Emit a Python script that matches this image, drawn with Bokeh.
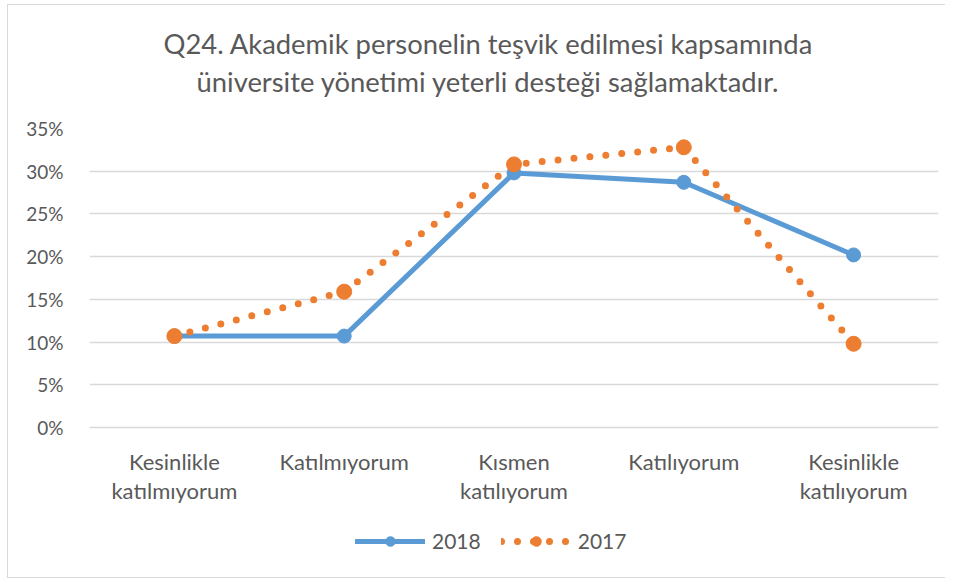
from bokeh.plotting import figure
from bokeh.models import (Range1d, FixedTicker, PrintfTickFormatter, Legend, LegendItem, Title)
from bokeh.core.properties import value
from bokeh.embed import file_html
from bokeh.resources import INLINE

categories = ["Kesinlikle\nkatılmıyorum", "Katılmıyorum", "Kısmen\nkatılıyorum", "Katılıyorum", "Kesinlikle\nkatılıyorum"]
series_2018 = [10.7, 10.7, 29.8, 28.7, 20.2]
series_2017 = [10.7, 15.9, 30.8, 32.8, 9.8]
y_ticks = [0, 5, 10, 15, 20, 25, 30, 35]
title_lines = ["Q24. Akademik personelin teşvik edilmesi kapsamında",
               "üniversite yönetimi yeterli desteği sağlamaktadır."]

FONT = "Lato"
GREY = "#595959"
BLUE = "#5B9BD5"
ORANGE = "#ED7D31"

xs = list(range(len(categories)))

# the frame extends below 0% to hold the category labels and the legend
PX_PER_UNIT = 299 / 35
FRAME_H = 449
y_bottom = 35 - FRAME_H / PX_PER_UNIT

p = figure(frame_width=849, frame_height=FRAME_H, output_backend="svg", toolbar_location=None,
           x_range=Range1d(-0.5, len(categories) - 0.5), y_range=Range1d(y_bottom, 35),
           min_border_left=81, min_border_right=7, min_border_top=123, min_border_bottom=0)
p.title = None
p.styles = {"margin-left": "7px", "margin-top": "4px",
            "border-left": "1px solid #d9d9d9", "border-top": "1px solid #d9d9d9",
            "border-bottom": "1px solid #d9d9d9"}
p.outline_line_color = None

spacer = Title(text=" ", text_font_size="10px", standoff=14)
t2 = Title(text=title_lines[1], align="left", text_font=FONT, text_font_size="27.4px",
           text_color=GREY, text_font_style="normal", offset=107, standoff=7)
t1 = Title(text=title_lines[0], align="left", text_font=FONT, text_font_size="27.4px",
           text_color=GREY, text_font_style="normal", offset=74, standoff=0)
p.add_layout(spacer, "above")
p.add_layout(t2, "above")
p.add_layout(t1, "above")

# axes
p.xaxis.visible = False
p.yaxis.ticker = FixedTicker(ticks=y_ticks)
p.yaxis.formatter = PrintfTickFormatter(format="%d%%")
p.yaxis.axis_line_color = None
p.yaxis.major_tick_line_color = None
p.yaxis.minor_tick_line_color = None
p.yaxis.major_label_text_font = FONT
p.yaxis.major_label_text_color = GREY
p.yaxis.major_label_text_font_size = "19px"
p.yaxis.major_label_standoff = 20
p.xgrid.grid_line_color = None
p.ygrid.ticker = FixedTicker(ticks=y_ticks)
p.ygrid.grid_line_color = "#d9d9d9"
p.ygrid.grid_line_width = 1.3

# category labels under the 0% line
p.text(x=xs, y=0, text=categories, text_align="center", text_baseline="top",
       y_offset=20, text_font=value(FONT), text_font_size="22px",
       text_line_height=1.1, text_color=GREY)

l18 = p.line(xs, series_2018, line_color=BLUE, line_width=5, line_cap="round", line_join="round")
c18 = p.scatter(xs, series_2018, size=14, fill_color=BLUE, line_color=BLUE)
l17 = p.line(xs, series_2017, line_color=ORANGE, line_width=7, line_dash="0 16", line_cap="round")
c17 = p.scatter(xs, series_2017, size=15, fill_color=ORANGE, line_color=ORANGE)

legend = Legend(items=[LegendItem(label="2018", renderers=[l18, c18]),
                       LegendItem(label="2017", renderers=[l17, c17])],
                location=(266, 24), orientation="horizontal",
                glyph_width=70, glyph_height=24, label_standoff=7, spacing=20,
                padding=0, margin=0, border_line_color=None, background_fill_alpha=0,
                label_text_font=FONT, label_text_font_size="21px", label_text_color=GREY)
p.add_layout(legend, "center")

open("out.html", "w").write(file_html(p, INLINE))
